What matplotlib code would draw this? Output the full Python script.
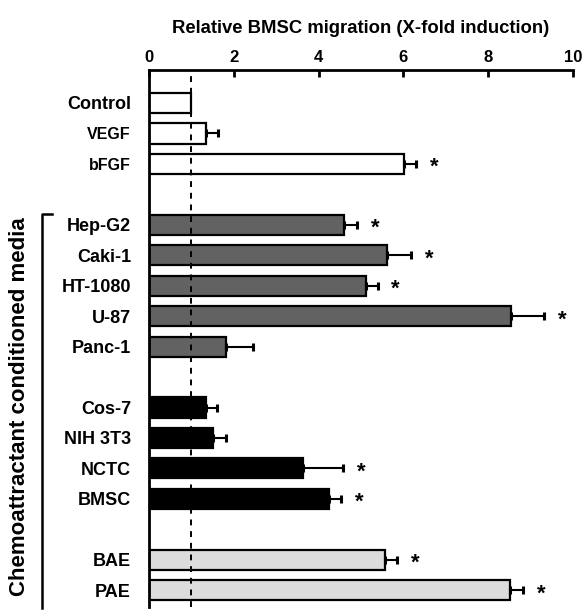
import matplotlib
matplotlib.use("Agg")
from matplotlib import pyplot as plt
import numpy as np

plt.rcParams['font.family'] = ['Liberation Sans', 'DejaVu Sans']
plt.rcParams['font.weight'] = 'bold'

# data
labels = ["Control", "VEGF", "bFGF",
          "Hep-G2", "Caki-1", "HT-1080", "U-87", "Panc-1",
          "Cos-7", "NIH 3T3", "NCTC", "BMSC",
          "BAE", "PAE"]
values = [1.0, 1.34, 6.02,
          4.61, 5.62, 5.13, 8.53, 1.81,
          1.34, 1.52, 3.64, 4.25,
          5.56, 8.51]
errors = [0.0, 0.29, 0.28,
          0.30, 0.57, 0.26, 0.78, 0.64,
          0.27, 0.29, 0.93, 0.27,
          0.28, 0.31]
signif = [False, False, True,
          True, True, True, True, False,
          False, False, True, True,
          True, True]
group = [0, 0, 0, 1, 1, 1, 1, 1, 2, 2, 2, 2, 3, 3]
group_colors = ["white", "#626262", "black", "#dcdcdc"]

# one empty row between the groups
pos = np.array([0, 1, 2, 4, 5, 6, 7, 8, 10, 11, 12, 13, 15, 16])

fig = plt.figure(figsize=(5.88, 6.15), dpi=100)
ax = fig.add_axes([0.2534, 0.013, 0.721, 0.873])

colors = [group_colors[g] for g in group]
ax.barh(pos, values, height=0.66, color=colors, edgecolor="black",
        linewidth=1.6, zorder=2)
has_err = np.array(errors) > 0
xerr = [np.zeros(has_err.sum()), np.array(errors)[has_err]]
ax.errorbar(np.array(values)[has_err], pos[has_err], xerr=xerr, fmt="none",
            ecolor="black", elinewidth=1.5, capsize=3, capthick=2.2, zorder=3)

for p, v, e, s in zip(pos, values, errors, signif):
    if s:
        ax.text(v + e + 0.43, p + 0.12, "*", fontsize=16, fontweight="bold",
                ha="center", va="center")

ax.axvline(1, color="black", linestyle=(0, (3, 3)), linewidth=1.4, zorder=4)

ax.set_xlim(0, 10)
ax.set_ylim(16.55, -1.08)
ax.set_xticks([0, 2, 4, 6, 8, 10])
ax.xaxis.tick_top()
ax.xaxis.set_label_position("top")
ax.tick_params(axis="x", direction="in", length=5, width=2, labelsize=12, pad=4)
ax.set_xlabel("Relative BMSC migration (X-fold induction)", fontsize=13.3,
              fontweight="bold", labelpad=12)
ax.set_yticks(pos)
ax.set_yticklabels(labels)
ax.tick_params(axis="y", length=0, pad=13, labelsize=13)
for t in ax.get_yticklabels():
    if t.get_text() in ("VEGF", "bFGF"):
        t.set_fontsize(11.5)

for side in ("right", "bottom"):
    ax.spines[side].set_visible(False)
for side in ("top", "left"):
    ax.spines[side].set_linewidth(2)

# bracket for the conditioned media groups
fig.add_artist(plt.Line2D([42 / 588, 42 / 588, 52 / 588],
                          [1 - 608 / 615, 1 - 214 / 615, 1 - 214 / 615],
                          color="black", linewidth=1.8))
fig.text(20 / 588, 1 - 407 / 615, "Chemoattractant conditioned media",
         rotation=90, fontsize=16, fontweight="bold", ha="center", va="center")

fig.savefig("out.png", dpi=100)
